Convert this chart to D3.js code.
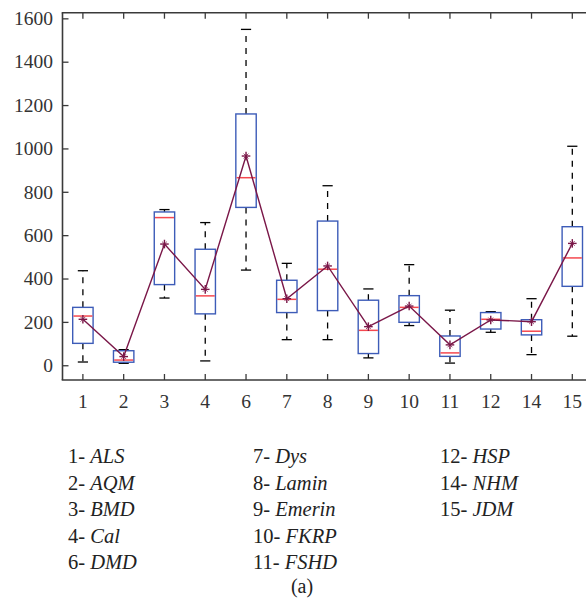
<!DOCTYPE html>
<html>
<head>
<meta charset="utf-8">
<script src="https://cdn.jsdelivr.net/npm/d3@7"></script>
<style>
html,body{margin:0;padding:0;background:#fff;}
svg{display:block;}
</style>
</head>
<body>
<svg id="chart" width="586" height="601"></svg>
<script>
// ---- data ----
const categories = ["1","2","3","4","6","7","8","9","10","11","12","14","15"];
const whiskerLow  = [15, 9, 310, 20, 439, 118, 118, 34, 183, 10, 152, 49, 134];
const q1          = [101, 14, 372, 237, 728, 243, 252, 54, 198, 41, 167, 140, 364];
const median      = [227, 24, 681, 320, 865, 304, 443, 161, 267, 57, 212, 157, 495];
const q3          = [267, 67, 707, 535, 1159, 392, 665, 300, 321, 135, 243, 210, 639];
const whiskerHigh = [436, 72, 718, 658, 1549, 470, 828, 352, 464, 254, 247, 307, 1010];
const meanValues  = [212, 40, 559, 350, 965, 307, 458, 178, 273, 94, 209, 201, 562];
const yTicks = [0, 200, 400, 600, 800, 1000, 1200, 1400, 1600];
const legendCol1 = [["1-","ALS"],["2-","AQM"],["3-","BMD"],["4-","Cal"],["6-","DMD"]];
const legendCol2 = [["7-","Dys"],["8-","Lamin"],["9-","Emerin"],["10-","FKRP"],["11-","FSHD"]];
const legendCol3 = [["12-","HSP"],["14-","NHM"],["15-","JDM"]];
const caption = "(a)";

(function () {
// ---- layout ----
const svg = d3.select("#chart");
const pLeft = 62.5, pRight = 592.7, pTop = 12.7, pBottom = 380;
const font = "'Liberation Serif','DejaVu Serif',serif";
const axisColor = "#3a3a3a";

const x = d3.scaleBand().domain(categories).range([pLeft, pRight]).padding(0);
const y = d3.scaleLinear().domain([-68, 1626]).range([pBottom, pTop]);
const cx = c => x(c) + x.bandwidth() / 2;
const boxW = x.bandwidth() * 0.5;
const capW = boxW * 0.5;

const data = categories.map((c, i) => ({
  c, lo: whiskerLow[i], q1: q1[i], med: median[i], q3: q3[i], hi: whiskerHigh[i], mean: meanValues[i]
}));

const g = svg.append("g");

// whiskers (dashed)
g.selectAll(".wu").data(data).enter().append("line")
  .attr("x1", d => cx(d.c)).attr("x2", d => cx(d.c))
  .attr("y1", d => y(d.q3)).attr("y2", d => y(d.hi))
  .attr("stroke", "#000").attr("stroke-width", 1.3).attr("stroke-dasharray", "6,6");
g.selectAll(".wl").data(data).enter().append("line")
  .attr("x1", d => cx(d.c)).attr("x2", d => cx(d.c))
  .attr("y1", d => y(d.q1)).attr("y2", d => y(d.lo))
  .attr("stroke", "#000").attr("stroke-width", 1.3).attr("stroke-dasharray", "6,6");
// caps
g.selectAll(".ch").data(data).enter().append("line")
  .attr("x1", d => cx(d.c) - capW / 2).attr("x2", d => cx(d.c) + capW / 2)
  .attr("y1", d => y(d.hi)).attr("y2", d => y(d.hi))
  .attr("stroke", "#000").attr("stroke-width", 1.3);
g.selectAll(".cl").data(data).enter().append("line")
  .attr("x1", d => cx(d.c) - capW / 2).attr("x2", d => cx(d.c) + capW / 2)
  .attr("y1", d => y(d.lo)).attr("y2", d => y(d.lo))
  .attr("stroke", "#000").attr("stroke-width", 1.3);
// boxes
g.selectAll(".box").data(data).enter().append("rect")
  .attr("x", d => cx(d.c) - boxW / 2).attr("width", boxW)
  .attr("y", d => y(d.q3)).attr("height", d => y(d.q1) - y(d.q3))
  .attr("fill", "#fff").attr("stroke", "#3d5cb8").attr("stroke-width", 1.4);
// medians
g.selectAll(".med").data(data).enter().append("line")
  .attr("x1", d => cx(d.c) - boxW / 2 + 0.7).attr("x2", d => cx(d.c) + boxW / 2 - 0.7)
  .attr("y1", d => y(d.med)).attr("y2", d => y(d.med))
  .attr("stroke", "#f5484f").attr("stroke-width", 1.5);

// mean line
const line = d3.line().x(d => cx(d.c)).y(d => y(d.mean));
g.append("path").datum(data).attr("d", line)
  .attr("fill", "none").attr("stroke", "#7a1748").attr("stroke-width", 1.4);
// mean markers (plus with faint diagonals)
const r = 4.3, rd = 2.4;
const mk = g.selectAll(".mk").data(data).enter().append("g")
  .attr("transform", d => `translate(${cx(d.c)},${y(d.mean)})`)
  .attr("stroke", "#7a1748");
mk.append("line").attr("x1", -r).attr("x2", r).attr("y1", 0).attr("y2", 0).attr("stroke-width", 1.4);
mk.append("line").attr("x1", 0).attr("x2", 0).attr("y1", -r).attr("y2", r).attr("stroke-width", 1.4);
mk.append("line").attr("x1", -rd).attr("x2", rd).attr("y1", -rd).attr("y2", rd).attr("stroke-width", 0.8);
mk.append("line").attr("x1", -rd).attr("x2", rd).attr("y1", rd).attr("y2", -rd).attr("stroke-width", 0.8);

// ---- axes ----
const yAxis = d3.axisLeft(y).tickValues(yTicks).tickSize(-6).tickPadding(10).tickFormat(d3.format("d"));
const ya = svg.append("g").attr("transform", `translate(${pLeft},0)`).call(yAxis);
ya.select(".domain").remove();
ya.selectAll(".tick line").attr("stroke", axisColor).attr("stroke-width", 1.3);
ya.selectAll(".tick text").attr("font-family", font).attr("font-size", 19.5).attr("fill", "#333").attr("x", -9.5);

const xAxis = d3.axisBottom(x).tickSize(-6).tickPadding(14);
const xa = svg.append("g").attr("transform", `translate(0,${pBottom})`).call(xAxis);
xa.select(".domain").remove();
xa.selectAll(".tick line").attr("stroke", axisColor).attr("stroke-width", 1.3);
xa.selectAll(".tick text").attr("font-family", font).attr("font-size", 19.5).attr("fill", "#333");

const xTop = d3.axisTop(x).tickSize(-6).tickFormat("");
const xt = svg.append("g").attr("transform", `translate(0,${pTop})`).call(xTop);
xt.select(".domain").remove();
xt.selectAll(".tick line").attr("stroke", axisColor).attr("stroke-width", 1.3);

// frame lines
svg.append("line").attr("x1", pLeft).attr("x2", pLeft).attr("y1", pTop).attr("y2", pBottom)
  .attr("stroke", axisColor).attr("stroke-width", 1.6);
svg.append("line").attr("x1", pLeft - 0.8).attr("x2", pRight).attr("y1", pBottom).attr("y2", pBottom)
  .attr("stroke", axisColor).attr("stroke-width", 1.6);
svg.append("line").attr("x1", pLeft - 0.8).attr("x2", pRight).attr("y1", pTop).attr("y2", pTop)
  .attr("stroke", axisColor).attr("stroke-width", 1.6);

// ---- legend ----
const lgY0 = 463, lgDy = 26.6;
function legendCol(items, x0) {
  const t = svg.append("g");
  items.forEach((it, i) => {
    const txt = t.append("text").attr("x", x0).attr("y", lgY0 + i * lgDy)
      .attr("font-family", font).attr("font-size", 20.5).attr("fill", "#222");
    txt.append("tspan").text(it[0] + " ");
    txt.append("tspan").attr("font-style", "italic").text(it[1]);
  });
}
legendCol(legendCol1, 68);
legendCol(legendCol2, 253);
legendCol(legendCol3, 440);
svg.append("text").attr("x", 302).attr("y", 593).attr("text-anchor", "middle")
  .attr("font-family", font).attr("font-size", 20).attr("fill", "#222").text(caption);
})();
</script>
</body>
</html>
